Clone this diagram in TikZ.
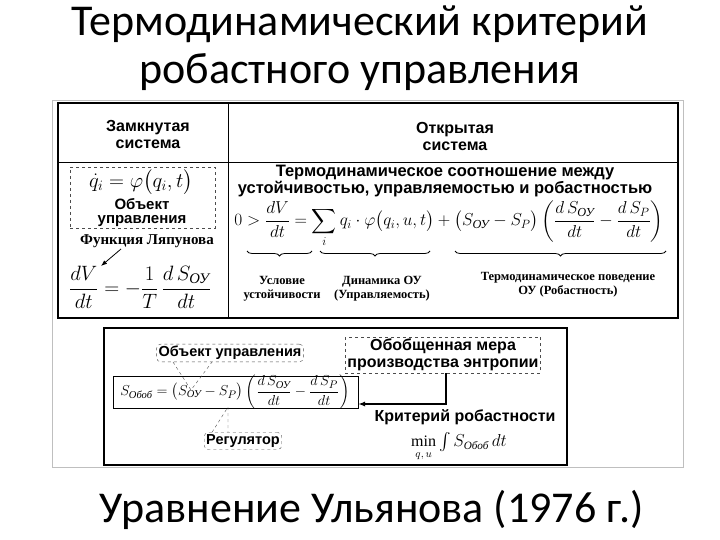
\documentclass[tikz,border=0pt]{standalone}
\usepackage{amsmath}
\usepackage{fontspec}
\setmainfont{Liberation Serif}
\newfontfamily\titlef{Carlito}
\newfontfamily\sansb{Liberation Sans}[BoldFont=* Bold]
\usetikzlibrary{decorations.pathreplacing,arrows.meta}
\newcommand{\cy}[1]{\text{\itshape #1}}
\tikzset{
 hdr/.style={font=\sansb\bfseries\fontsize{16}{17}\selectfont,align=center,inner sep=0},
 lbl/.style={font=\bfseries\fontsize{12.5}{14}\selectfont,align=center,inner sep=0},
 eq/.style={inner sep=0},
 dbox/.style={draw,dashed,gray!60!black},
 rbox/.style={draw,dashed,rounded corners=4pt,gray!60!black,text=black,font=\sansb\bfseries\fontsize{14.5}{16}\selectfont,inner sep=2pt},
 brc/.style={decorate,decoration={brace,mirror,amplitude=5pt},thick},
 ttl/.style={font=\titlef\fontsize{44}{48}\selectfont,inner sep=0}
}
\begin{document}
\begin{tikzpicture}[x=1pt,y=-1pt]
\useasboundingbox (0,0) rectangle (720,540);
\node[ttl] (t1) at (360,24) {Термодинамический критерий};
\node[ttl] (t2) at (360,72) {робастного управления};
\node[ttl] (t3) at (372,510) {Уравнение Ульянова (1976 г.)};
\draw[gray!50] (52,100) rectangle (683,467);
% top table
\draw[line width=1.6pt] (58,103) rectangle (678,318);
\draw[line width=1pt] (228,103) -- (228,318);
\draw[line width=0.8pt] (58,162) -- (678,162);
\node[hdr] (h1) at (148,134) {Замкнутая\\система};
\node[hdr] (h2) at (455,136) {Открытая\\система};
% left cell
\node[dbox,minimum width=145,minimum height=61] (ob) at (142.5,197.5) {};
\node[eq,font=\fontsize{21}{23}\selectfont] (q) at (141,182) {$\dot q_i=\varphi\bigl(q_i,t\bigr)$};
\node[hdr,font=\sansb\bfseries\fontsize{15}{14}\selectfont] (ob1) at (142,213) {Объект\\управления};
\node[lbl,font=\bfseries\fontsize{15}{16}\selectfont] (lf) at (147,241) {Функция Ляпунова};
\node[eq,font=\fontsize{21}{23}\selectfont] (e1) at (140,287) {$\dfrac{dV}{dt}=-\dfrac{1}{T}\,\dfrac{d\,S_{\cy{ОУ}}}{dt}$};
\coordinate (ae) at (101,266);
\draw[-{Latex[length=6pt]},thick] (121,249) -- (ae);
% right cell
\node[hdr,font=\sansb\bfseries\fontsize{16.5}{17}\selectfont] (r1) at (445,181) {Термодинамическое соотношение между\\устойчивостью, управляемостью и робастностью};
\node[eq,font=\fontsize{17.5}{19}\selectfont] (e2) at (449,224) {$0>\dfrac{dV}{dt}=\displaystyle\sum_i q_i\cdot\varphi\bigl(q_i,u,t\bigr)+\bigl(S_{\cy{ОУ}}-S_P\bigr)\left(\frac{d\,S_{\cy{ОУ}}}{dt}-\frac{d\,S_P}{dt}\right)$};
\coordinate (b1a) at (247,251); \coordinate (b1b) at (312,251);
\coordinate (b2a) at (320,251); \coordinate (b2b) at (430,251);
\coordinate (b3a) at (455,251); \coordinate (b3b) at (666,251);
\draw[brc] (b1a) -- (b1b);
\draw[brc] (b2a) -- (b2b);
\draw[brc] (b3a) -- (b3b);
\node[lbl] (l1) at (282,289) {Условие\\устойчивости};
\node[lbl] (l2) at (382,289) {Динамика ОУ\\(Управляемость)};
\node[lbl] (l3) at (568,285) {Термодинамическое поведение\\ОУ (Робастность)};
% bottom box
\draw[line width=1.6pt] (104,328) rectangle (567,465);
\node[draw,minimum width=245,minimum height=32] (eb) at (235.5,392) {};
\node[eq,font=\fontsize{15}{17}\selectfont] (e3) at (235,392) {$S_{\cy{Обоб}}=\bigl(S_{\cy{ОУ}}-S_P\bigr)\left(\dfrac{d\,S_{\cy{ОУ}}}{dt}-\dfrac{d\,S_P}{dt}\right)$};
\node[rbox] (c1) at (230,353) {Объект управления};
\node[rbox] (c2) at (243,441) {Регулятор};
\coordinate (sou) at (191,390);
\coordinate (sp) at (228,407);
\coordinate (x1) at (173,0); \coordinate (x2) at (212,0); \coordinate (x3) at (228,0);
\draw[dashed,gray!60!black] (c1.south -| x1) -- (sou) -- (c1.south -| x2);
\draw[dashed,gray!60!black] (c2.north -| x2) -- (sp) -- (c2.north -| x3);
\node[rbox,rounded corners=0pt,font=\sansb\bfseries\fontsize{16}{17}\selectfont,inner sep=2pt,align=center] (om) at (443,355) {Обобщенная мера\\производства энтропии};
\coordinate (corner) at (446,404);
\draw[line width=1.4pt,-{Latex[length=7pt]}] (om.south -| corner) -- (corner) -- (eb.east |- corner);
\node[hdr] (kr) at (465,417) {Критерий робастности};
\node[eq,font=\fontsize{16}{18}\selectfont] (mn) at (459,447) {$\min\limits_{q,\,u}\int S_{\cy{Обоб}}\,dt$};
\end{tikzpicture}
\end{document}
